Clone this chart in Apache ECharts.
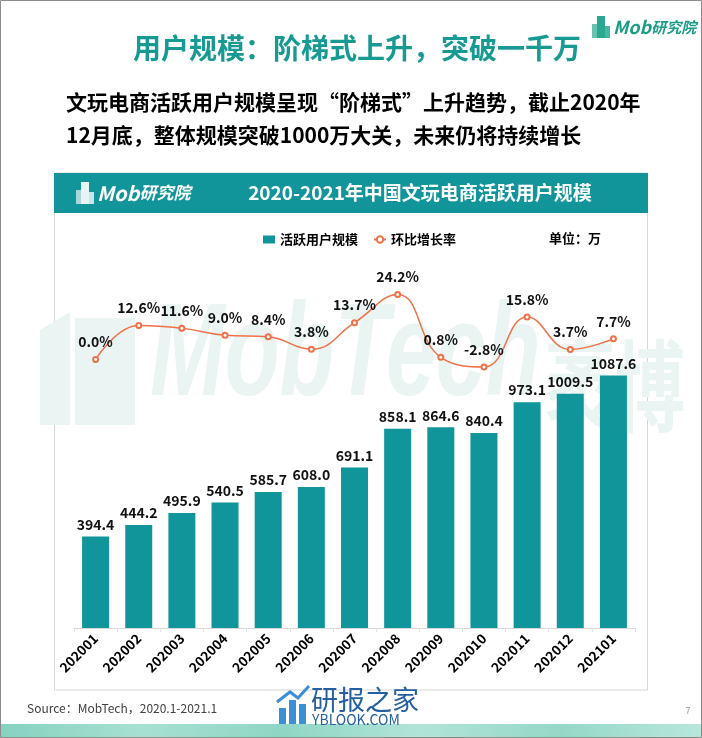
<!DOCTYPE html>
<html>
<head>
<meta charset="utf-8">
<script src="https://cdn.jsdelivr.net/npm/echarts@6/dist/echarts.min.js"></script>
<style>
html,body{margin:0;padding:0;background:#fff;}
#main{width:702px;height:738px;}
</style>
</head>
<body>
<div id="main"></div>
<script>
var categories = ['202001','202002','202003','202004','202005','202006','202007','202008','202009','202010','202011','202012','202101'];
var activeUsers = [394.4,444.2,495.9,540.5,585.7,608.0,691.1,858.1,864.6,840.4,973.1,1009.5,1087.6];
var momGrowth = [0.0,12.6,11.6,9.0,8.4,3.8,13.7,24.2,0.8,-2.8,15.8,3.7,7.7];
var seriesNames = ['活跃用户规模','环比增长率'];

var FONT = '"Noto Sans CJK SC","Noto Sans",sans-serif';
var TEAL = '#10969a';
var ORANGE = '#f07148';
var WM = '#e9f4f3';

var chart = echarts.init(document.getElementById('main'), null, {renderer:'canvas'});

function logo(x, y, color, iconColor, size) {
  return {
    type:'group', x:x, y:y, z:1,
    children:[
      {type:'rect', shape:{x:0,y:8,width:6,height:14}, style:{fill:iconColor, opacity:0.7}},
      {type:'rect', shape:{x:5,y:0,width:8,height:22}, style:{fill:iconColor}},
      {type:'rect', shape:{x:12,y:10,width:6,height:12}, style:{fill:iconColor, opacity:0.85}},
      {type:'text', x:21, y:11, style:{
        text:'{a|Mob}{b|研究院}', verticalAlign:'middle', fill:color,
        rich:{
          a:{fontSize:size, fontStyle:'italic', fontWeight:'bold', fontFamily:FONT, fill:color},
          b:{fontSize:size-3, fontStyle:'italic', fontWeight:'bold', fontFamily:FONT, fill:color}
        }
      }}
    ]
  };
}

var option = {
  backgroundColor:'#ffffff',
  animation:false,
  textStyle:{fontFamily:FONT},
  graphic:[
    {type:'rect', z:-5, shape:{x:0.5,y:0.5,width:701,height:737}, style:{fill:'#fff', stroke:'#8c8c8c', lineWidth:1}},
    {type:'rect', z:-4, shape:{x:1,y:724,width:700,height:13}, style:{fill:new echarts.graphic.LinearGradient(0,0,1,0,[
      {offset:0,color:'#86d2c0'},{offset:0.2,color:'#a7e0d2'},{offset:0.4,color:'#8fd6c5'},
      {offset:0.6,color:'#b1e4d8'},{offset:0.8,color:'#95d8c8'},{offset:1,color:'#b8e7dc'}])}},
    {type:'text', z:1, x:357, y:48, style:{text:'用户规模：阶梯式上升，突破一千万', fontSize:28, fontWeight:'bold', fontFamily:FONT, fill:'#179a93', textAlign:'center', textVerticalAlign:'middle'}},
    {type:'text', z:1, x:66, y:102, style:{text:'文玩电商活跃用户规模呈现“阶梯式”上升趋势，截止2020年', fontSize:21, fontWeight:'bold', fontFamily:FONT, fill:'#000', textAlign:'left', textVerticalAlign:'middle'}},
    {type:'text', z:1, x:66, y:135, style:{text:'12月底，整体规模突破1000万大关，未来仍将持续增长', fontSize:21, fontWeight:'bold', fontFamily:FONT, fill:'#000', textAlign:'left', textVerticalAlign:'middle'}},
    logo(592, 16, '#1a9c86', '#2aa88f', 18),
    {type:'rect', z:-3, shape:{x:54.5,y:173,width:593,height:517}, style:{fill:'#fff', stroke:'#d6d6d6', lineWidth:1}},
    {type:'rect', z:-2, shape:{x:54,y:173,width:594,height:40}, style:{fill:'#11959a'}},
    logo(76, 182, '#ffffff', '#e8f4f4', 20),
    {type:'text', z:1, x:420, y:193, style:{text:'2020-2021年中国文玩电商活跃用户规模', fontSize:19, fontWeight:'bold', fontFamily:FONT, fill:'#fff', textAlign:'center', textVerticalAlign:'middle'}},
    {type:'text', z:1, x:549, y:238, style:{text:'单位：万', fontSize:13, fontWeight:'bold', fontFamily:FONT, fill:'#000', textAlign:'left', textVerticalAlign:'middle'}},
    {type:'group', z:-1, children:[
      {type:'polygon', shape:{points:[[40,330],[70,312],[70,425],[40,425]]}, style:{fill:WM}},
      {type:'polygon', shape:{points:[[75,318],[135,318],[135,425],[75,425]]}, style:{fill:WM}},
      {type:'text', x:150, y:425, scaleX:0.68, style:{text:'MobTech', fontSize:132, fontWeight:'bold', fontStyle:'italic', fontFamily:'"Liberation Sans",sans-serif', fill:WM, textAlign:'left', textVerticalAlign:'bottom'}},
      {type:'text', x:545, y:436, scaleX:0.7, style:{text:'袤博', fontSize:100, fontWeight:'bold', fontFamily:FONT, fill:WM, textAlign:'left', textVerticalAlign:'bottom'}}
    ]},
    {type:'text', z:1, x:27, y:708, style:{text:'Source：MobTech，2020.1-2021.1', fontSize:12, fontFamily:FONT, fill:'#404040', textAlign:'left', textVerticalAlign:'middle'}},
    {type:'text', z:1, x:688, y:711, style:{text:'7', fontSize:9, fontFamily:FONT, fill:'#999', textAlign:'center', textVerticalAlign:'middle'}},
    {type:'group', z:3, children:[
      {type:'rect', shape:{x:279,y:708,width:7,height:16}, style:{fill:'#3a8fd6'}},
      {type:'rect', shape:{x:289,y:700,width:7,height:24}, style:{fill:'#3a8fd6'}},
      {type:'rect', shape:{x:299,y:704,width:7,height:20}, style:{fill:'#3a8fd6'}},
      {type:'polyline', shape:{points:[[277,702],[290,692],[298,698],[309,686]]}, style:{stroke:'#3a8fd6', lineWidth:3, fill:null}},
      {type:'text', x:311, y:700, style:{text:'研报之家', fontSize:27, fontFamily:FONT, fill:'#24609f', textAlign:'left', textVerticalAlign:'middle'}},
      {type:'text', x:312, y:720, style:{text:'YBLOOK.COM', fontSize:14, fontFamily:FONT, fill:'#24609f', textAlign:'left', textVerticalAlign:'middle'}}
    ]}
  ],
  legend:{
    left:258, top:228,
    itemWidth:12, itemHeight:8, itemGap:15,
    textStyle:{fontSize:13, fontWeight:'bold', color:'#000', fontFamily:FONT},
    data:[
      {name:seriesNames[0], icon:'rect'},
      {name:seriesNames[1]}
    ]
  },
  grid:{left:74, right:67, top:252, bottom:110, containLabel:false},
  xAxis:{
    type:'category',
    data:categories,
    axisLine:{lineStyle:{color:'#d9d9d9'}},
    axisTick:{show:true, alignWithLabel:false, length:4, lineStyle:{color:'#e3e3e3'}},
    axisLabel:{interval:0, rotate:45, margin:8, fontSize:13.5, fontWeight:'bold', color:'#000', fontFamily:FONT}
  },
  yAxis:[
    {type:'value', min:0, max:1620, show:false, splitLine:{show:false}},
    {type:'value', min:-100, max:40, show:false, splitLine:{show:false}}
  ],
  series:[
    {
      name:seriesNames[0], type:'bar', yAxisIndex:0, data:activeUsers,
      barWidth:27,
      itemStyle:{color:TEAL},
      label:{show:true, position:'top', distance:5, fontSize:14, fontWeight:'bold', color:'#111', fontFamily:FONT,
        formatter:function(p){return p.value.toFixed(1);}}
    },
    {
      name:seriesNames[1], type:'line', yAxisIndex:1, data:momGrowth,
      smooth:0.45,
      symbol:'emptyCircle', symbolSize:5,
      lineStyle:{color:ORANGE, width:1.5},
      itemStyle:{color:ORANGE, borderWidth:1},
      label:{show:true, position:'top', distance:7, fontSize:14, fontWeight:'bold', color:'#111', fontFamily:FONT,
        formatter:function(p){return p.value.toFixed(1)+'%';}},
      z:5
    }
  ]
};
chart.setOption(option);
</script>
</body>
</html>
